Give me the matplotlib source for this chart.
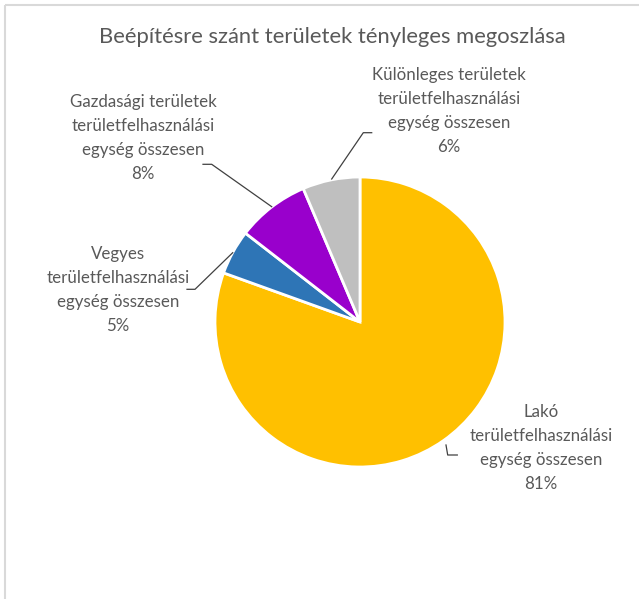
import matplotlib
matplotlib.use("Agg")
import matplotlib.pyplot as plt

plt.rcParams['font.family'] = ['Lato', 'DejaVu Sans']

title = "Beépítésre szánt területek tényleges megoszlása"
categories = [
    "Lakó\nterületfelhasználási\negység összesen",
    "Vegyes\nterületfelhasználási\negység összesen",
    "Gazdasági területek\nterületfelhasználási\negység összesen",
    "Különleges területek\nterületfelhasználási\negység összesen",
]
values = [80.5, 5.0, 8.1, 6.4]
colors = ["#FFC000", "#2E75B6", "#9900CC", "#BFBFBF"]

W, H = 639, 599
fig = plt.figure(figsize=(W / 100, H / 100), dpi=100)
ax = fig.add_axes([0, 0, 1, 1])
ax.set_xlim(0, W)
ax.set_ylim(0, H)
ax.set_aspect('equal')
ax.axis('off')

def Y(y):
    return H - y

center = (360, Y(322))
ax.pie(values, colors=colors, startangle=90, counterclock=False,
       center=center, radius=145, frame=True,
       wedgeprops=dict(edgecolor='white', linewidth=2))
ax.set_xlim(0, W)
ax.set_ylim(0, H)
ax.axis('off')

# chart border
ax.plot([4.5, 4.5], [0, Y(5)], color='#D9D9D9', lw=1.5, solid_capstyle='butt')
ax.plot([4.5, W], [Y(5), Y(5)], color='#D9D9D9', lw=1.5, solid_capstyle='butt')

ax.text(332, Y(37), title, ha='center', va='center', fontsize=15.8, color='#595959')

text_color = '#595959'
label_pos = [(541, 448), (118, 290), (143, 138), (449, 111)]
leaders = [
    [(446, 445), (447.7, 455), (457.3, 455)],
    [(232.7, 252.7), (195, 289.3), (187, 289.3)],
    [(271.7, 206.7), (211.7, 164.3), (203, 164.3)],
    [(331.7, 179), (363.3, 132.7), (371.7, 132.7)],
]
for cat, v, (lx, ly), pts in zip(categories, values, label_pos, leaders):
    pct = "%d%%" % int(v + 0.5)
    ax.text(lx, Y(ly), cat + "\n" + pct, ha='center', va='center',
            fontsize=12.2, color=text_color, linespacing=1.62)
    ax.plot([p[0] for p in pts], [Y(p[1]) for p in pts], color='#404040', lw=0.9)

fig.savefig("out.png", dpi=100, facecolor='white')
